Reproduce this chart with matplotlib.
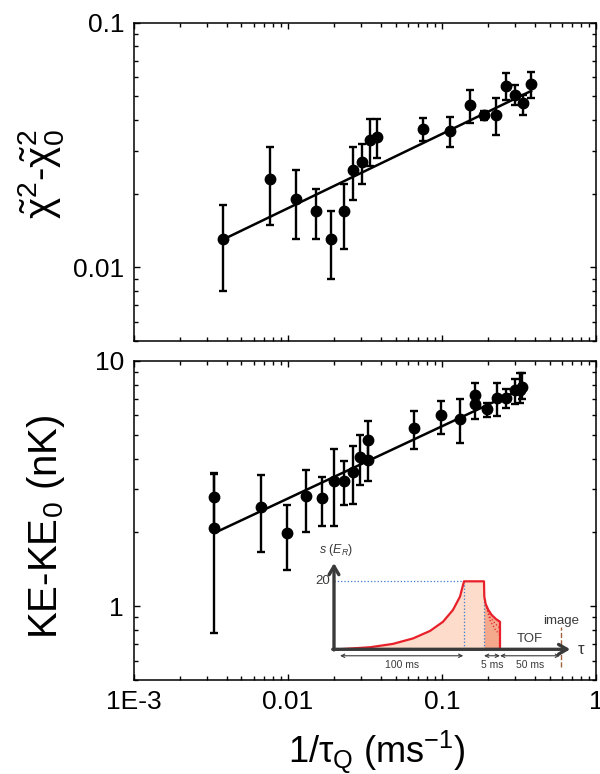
import numpy as np
import matplotlib
matplotlib.use("Agg")
import matplotlib.pyplot as plt
from matplotlib.ticker import LogLocator, NullFormatter, FixedLocator, FixedFormatter

plt.rcParams["font.family"] = ["Liberation Sans", "DejaVu Sans"]
plt.rcParams["mathtext.fontset"] = "custom"
plt.rcParams["mathtext.rm"] = "Liberation Sans"
plt.rcParams["mathtext.it"] = "Liberation Sans:italic"
plt.rcParams["mathtext.default"] = "rm"

# ---- top panel: chi^2 excess vs quench rate ----
chi_x = [0.0038, 0.00767, 0.0113, 0.0152, 0.0191, 0.023, 0.0266, 0.0303, 0.034, 0.0381,
         0.0752, 0.113, 0.151, 0.188, 0.225, 0.261, 0.299, 0.338, 0.379]
chi_y = [0.013, 0.0229, 0.019, 0.017, 0.013, 0.017, 0.0251, 0.027, 0.033, 0.034,
         0.0369, 0.036, 0.046, 0.042, 0.042, 0.0552, 0.0508, 0.047, 0.056]
chi_lo = [0.008, 0.0149, 0.013, 0.013, 0.00895, 0.0119, 0.0188, 0.0219, 0.026, 0.0279,
          0.0329, 0.031, 0.039, 0.0402, 0.0348, 0.0485, 0.0461, 0.042, 0.0491]
chi_hi = [0.0179, 0.031, 0.0249, 0.0209, 0.017, 0.022, 0.031, 0.032, 0.0403, 0.0403,
          0.0409, 0.041, 0.0531, 0.0437, 0.0491, 0.062, 0.0558, 0.0506, 0.063]
chi_fit_x = [0.0038, 0.379]
chi_fit_y = [0.013, 0.0526]
chi_ticks = [0.01, 0.1]
chi_ticklabels = ["0.01", "0.1"]

# ---- bottom panel: kinetic energy excess ----
ke_x = [0.00331, 0.00331, 0.00665, 0.0099, 0.0132, 0.01656, 0.0199, 0.0231, 0.0264, 0.0295,
        0.0333, 0.0333, 0.0655, 0.0986, 0.131, 0.164, 0.164, 0.195, 0.228, 0.262,
        0.296, 0.322, 0.331]
ke_y = [2.79, 2.09, 2.55, 1.98, 2.82, 2.77, 3.25, 3.25, 3.54, 4.07,
        4.76, 3.95, 5.35, 6.02, 5.8, 7.25, 6.7, 6.35, 7.08, 7.08,
        7.62, 7.64, 7.87]
ke_lo = [2.1, 0.78, 1.66, 1.40, 2.0, 2.13, 2.13, 2.58, 2.61, 3.13,
         3.9, 3.24, 4.37, 5.06, 4.65, 6.5, 5.78, 5.9, 5.97, 6.44,
         6.68, 6.73, 7.0]
ke_hi = [3.48, 3.45, 3.43, 2.58, 3.6, 3.36, 4.36, 3.91, 4.49, 4.98,
         5.68, 4.7, 6.28, 6.9, 7.0, 8.11, 7.4, 6.73, 8.11, 7.68,
         8.42, 8.92, 8.9]
ke_fit_x = [0.00334, 0.33]
ke_fit_y = [1.99, 7.7]
ke_ticks = [1, 10]
ke_ticklabels = ["1", "10"]

x_ticks = [1e-3, 1e-2, 1e-1, 1]
x_ticklabels = ["1E-3", "0.01", "0.1", "1"]

# ---- inset schematic (arbitrary time units, s in E_R) ----
ramp_t = [4, 36, 59, 79, 96, 109, 119, 126, 130, 150]
ramp_s = [0.0, 0.6, 1.6, 3.2, 5.4, 8.1, 11.6, 15.5, 20, 20]
decay_t = [150, 150.3, 151.7, 154.3, 157.7, 162, 166]
decay_s = [20, 15.5, 13.3, 11.6, 10.1, 8.9, 8.1]
alt_t = [151.7, 156, 161, 166]
alt_s1 = [13.3, 9.5, 7.6, 6.2]
alt_s2 = [13.3, 8.5, 5.9, 4.2]
s_hold = 20
t_image = 226.7
spans = [(6, 129.3, "100 ms"), (150, 166, "5 ms"), (166, 226, "50 ms")]

W, H = 600, 774
fig = plt.figure(figsize=(W / 100, H / 100), dpi=100)


def px_rect(x0, x1, y0, y1):
    return [x0 / W, 1 - y1 / H, (x1 - x0) / W, (y1 - y0) / H]


ax1 = fig.add_axes(px_rect(133.8, 596, 22.7, 341))
ax2 = fig.add_axes(px_rect(133.8, 596, 361, 680))

ebkw = dict(fmt="o", color="black", ms=7.5, elinewidth=1.7, capsize=3.2, capthick=1.7, zorder=3)

ax1.errorbar(chi_x, chi_y,
             yerr=[np.array(chi_y) - np.array(chi_lo), np.array(chi_hi) - np.array(chi_y)], **ebkw)
ax1.plot(chi_fit_x, chi_fit_y, color="black", lw=1.8, zorder=2)

ax2.errorbar(ke_x, ke_y,
             yerr=[np.array(ke_y) - np.array(ke_lo), np.array(ke_hi) - np.array(ke_y)], **ebkw)
ax2.plot(ke_fit_x, ke_fit_y, color="black", lw=1.8, zorder=2)

for ax, lim, yt, ytl in ((ax1, (0.005, 0.1), chi_ticks, chi_ticklabels),
                         (ax2, (0.5, 10), ke_ticks, ke_ticklabels)):
    ax.set_xscale("log")
    ax.set_yscale("log")
    ax.set_xlim(1e-3, 1)
    ax.set_ylim(*lim)
    ax.xaxis.set_major_locator(FixedLocator(x_ticks))
    ax.xaxis.set_major_formatter(FixedFormatter(x_ticklabels))
    ax.yaxis.set_major_locator(FixedLocator(yt))
    ax.yaxis.set_major_formatter(FixedFormatter(ytl))
    ax.xaxis.set_minor_locator(LogLocator(base=10, subs=np.arange(2, 10)))
    ax.xaxis.set_minor_formatter(NullFormatter())
    ax.yaxis.set_minor_locator(LogLocator(base=10, subs=np.arange(2, 10)))
    ax.yaxis.set_minor_formatter(NullFormatter())
    ax.tick_params(which="both", direction="in", top=True, right=True, width=1.0,
                   labelsize=19, pad=7)
    ax.tick_params(which="major", length=4.5)
    ax.tick_params(which="minor", length=2.6)
    for sp in ax.spines.values():
        sp.set_linewidth(1.1)

ax1.tick_params(axis="x", labelbottom=False)

fig.text(41 / W, 1 - 174 / H, r"$\tilde{\chi}^{2}$-$\tilde{\chi}_{0}^{2}$", rotation=90,
         ha="center", va="center", fontsize=29)
fig.text(46 / W, 1 - 527 / H, r"KE-KE$_{0}$ (nK)", rotation=90,
         ha="center", va="center", fontsize=29)
fig.text(377 / W, 1 - 763 / H, r"1/$\tau_{Q}$ (ms$^{-1}$)",
         ha="center", va="baseline", fontsize=26)

# ---- inset ----
ins = fig.add_axes(px_rect(300, 590, 530, 680))
ins.set_xlim(-34, 256)
ins.set_ylim(-9.03, 35.1)
ins.axis("off")
ins.patch.set_alpha(0)

red = "#e8202a"
gray = "#3a3a3a"
blue = "#3a78c8"

ins.fill_between(ramp_t, 0, ramp_s, color="#fddccc", lw=0, zorder=1)
ins.fill_between(decay_t, 0, decay_s, color="#f4a88c", lw=0, zorder=1)
ins.plot(ramp_t + decay_t + [decay_t[-1]], ramp_s + decay_s + [0], color=red, lw=1.6, zorder=3)
ins.plot(alt_t, alt_s1, color=red, lw=0.9, ls=":", zorder=3)
ins.plot(alt_t, alt_s2, color=red, lw=0.9, ls=":", zorder=3)

ins.plot([0, ramp_t[-2]], [s_hold, s_hold], color=blue, lw=0.9, ls=":", zorder=2)
ins.plot([ramp_t[-2], ramp_t[-2]], [0, s_hold], color=blue, lw=0.9, ls=":", zorder=2)
ins.plot([decay_t[0], decay_t[0]], [0, decay_s[1]], color=blue, lw=0.9, ls=":", zorder=2)
ins.plot([t_image, t_image], [-5.1, 6.5], color="#a0623a", lw=1.0, ls="--", zorder=2)

ins.annotate("", xy=(0, 26.2), xytext=(0, -1.0),
             arrowprops=dict(arrowstyle="->,head_length=0.6,head_width=0.35", lw=2.4, color=gray))
ins.annotate("", xy=(239, 0), xytext=(-4, 0),
             arrowprops=dict(arrowstyle="->,head_length=0.6,head_width=0.35", lw=2.4, color=gray),
             zorder=4)
for t0, t1, lab in spans:
    ins.annotate("", xy=(t1, -1.9), xytext=(t0, -1.9),
                 arrowprops=dict(arrowstyle="<->,head_length=0.25,head_width=0.12",
                                 lw=0.8, color=gray, shrinkA=0, shrinkB=0))
    ins.text((t0 + t1) / 2, -4.6, lab, ha="center", va="center", fontsize=7.5, color=gray)

ins.text(-4, s_hold, "20", ha="right", va="center", fontsize=9.5, color=gray)
ins.text(2, 29.2, r"$\mathit{s}$ ($\mathit{E_R}$)", ha="center", va="center", fontsize=9, color=gray)
ins.text(196, 2.9, "TOF", ha="center", va="center", fontsize=9.5, color=gray)
ins.text(t_image, 8.4, "image", ha="center", va="center", fontsize=9.5, color=gray)
ins.text(247, 0, r"$\tau$", ha="center", va="center", fontsize=12, color=gray)

fig.savefig("out.png", dpi=100)
